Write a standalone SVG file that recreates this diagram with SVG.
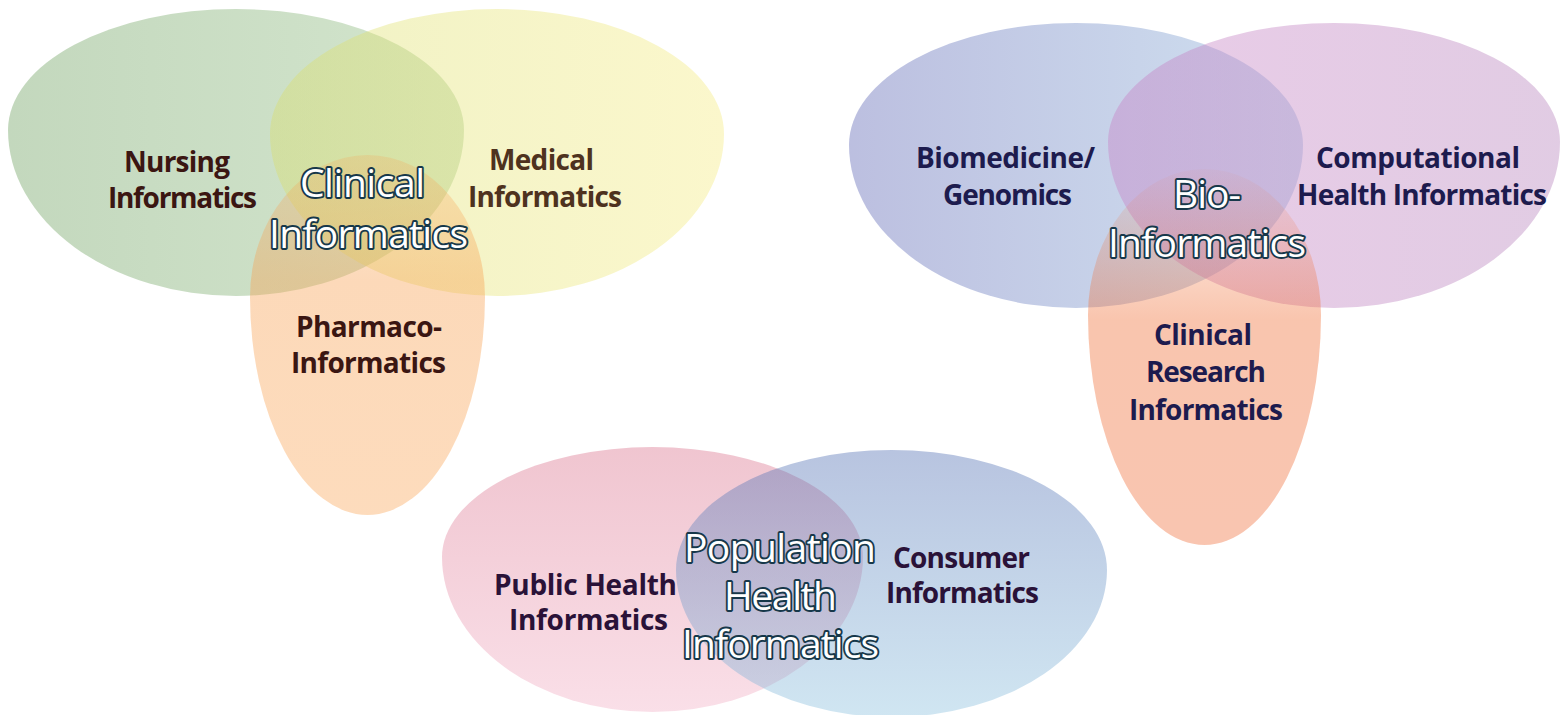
<svg xmlns="http://www.w3.org/2000/svg" width="1560" height="715" viewBox="0 0 1560 715">
<style>
.sh{opacity:0.4}
.lb{font-family:"Open Sans","Liberation Sans",sans-serif;font-weight:700;font-size:28px;text-anchor:middle}
.brown{fill:#3b1612}
.brown2{fill:#4e321e}
.navy{fill:#1d1b4e}
.plum{fill:#2a1238}
.ol{font-family:"Open Sans","Liberation Sans",sans-serif;font-weight:500;font-size:39px;text-anchor:middle;fill:#ffffff;stroke:#17384a;stroke-width:3.8;paint-order:stroke;stroke-linejoin:round}
</style>
<defs>
<linearGradient id="gNurs" x1="0" y1="0" x2="1" y2="0"><stop offset="0" stop-color="#699d5a"/><stop offset="1" stop-color="#91be82"/></linearGradient>
<linearGradient id="gMed" x1="0" y1="0" x2="1" y2="0"><stop offset="0" stop-color="#d9de6b"/><stop offset="1" stop-color="#f5eb7f"/></linearGradient>
<linearGradient id="gPh" x1="0" y1="0" x2="0" y2="1"><stop offset="0" stop-color="#f8a050" stop-opacity="0.55"/><stop offset="0.35" stop-color="#f8a050"/><stop offset="1" stop-color="#faa658"/></linearGradient>
<linearGradient id="gBio" x1="0" y1="0" x2="1" y2="0"><stop offset="0" stop-color="#575fb1"/><stop offset="1" stop-color="#87b1d9"/></linearGradient>
<linearGradient id="gComp" x1="0" y1="0" x2="1" y2="0"><stop offset="0" stop-color="#c87ec4"/><stop offset="1" stop-color="#b47fba"/></linearGradient>
<linearGradient id="gCR" x1="0" y1="0" x2="0" y2="1"><stop offset="0" stop-color="#f06e34" stop-opacity="0.1"/><stop offset="0.4" stop-color="#f06e34"/><stop offset="1" stop-color="#f06e3a"/></linearGradient>
<linearGradient id="gPub" x1="0" y1="0" x2="0" y2="1"><stop offset="0" stop-color="#d96e89"/><stop offset="1" stop-color="#f2afc5"/></linearGradient>
<linearGradient id="gCon" x1="0" y1="0" x2="0" y2="1"><stop offset="0" stop-color="#4d6bb1"/><stop offset="1" stop-color="#89c0de"/></linearGradient>
</defs>
<rect width="1560" height="715" fill="#ffffff"/>

<g id="nursing">
<path class="sh" fill="url(#gNurs)" d="M8,130 A228,121 0 0 1 464,130 A228,166 0 0 1 8,130 Z"/>
<text class="lb brown" x="177" y="172" textLength="106">Nursing</text>
<text class="lb brown" x="182.5" y="208" textLength="149">Informatics</text>
</g>
<g id="medical">
<path class="sh" fill="url(#gMed)" d="M270,134 A227,125 0 0 1 724,134 A227,162 0 0 1 270,134 Z"/>
<text class="lb brown2" x="541.5" y="170" textLength="105">Medical</text>
<text class="lb brown2" x="545" y="207" textLength="154">Informatics</text>
</g>
<g id="pharmaco">
<path class="sh" fill="url(#gPh)" d="M250,297 A117.5,142 0 0 1 485,297 A117.5,218 0 0 1 250,297 Z"/>
<text class="lb brown" x="369" y="337" textLength="146">Pharmaco-</text>
<text class="lb brown" x="368.5" y="373" textLength="155">Informatics</text>
</g>
<g id="clinical-informatics">
<text class="ol" x="362.5" y="197" textLength="125">Clinical</text>
<text class="ol" x="368.5" y="248" textLength="199">Informatics</text>
</g>

<g id="biomedicine">
<path class="sh" fill="url(#gBio)" d="M849,145 A227,122 0 0 1 1303,145 A227,163 0 0 1 849,145 Z"/>
<text class="lb navy" x="1005.5" y="168" textLength="179">Biomedicine/</text>
<text class="lb navy" x="1007.5" y="205" textLength="129">Genomics</text>
</g>
<g id="computational">
<path class="sh" fill="url(#gComp)" d="M1108,142 A226,119 0 0 1 1560,142 A226,166 0 0 1 1108,142 Z"/>
<text class="lb navy" x="1418" y="168" textLength="204">Computational</text>
<text class="lb navy" x="1422" y="205" textLength="250">Health Informatics</text>
</g>
<g id="clinical-research">
<path class="sh" fill="url(#gCR)" d="M1088,315 A116.5,146 0 0 1 1321,315 A116.5,230 0 0 1 1088,315 Z"/>
<text class="lb navy" x="1203" y="345" textLength="98">Clinical</text>
<text class="lb navy" x="1206" y="382" textLength="120">Research</text>
<text class="lb navy" x="1206" y="420" textLength="154">Informatics</text>
</g>
<g id="bio-informatics">
<text class="ol" x="1207" y="208" textLength="68">Bio-</text>
<text class="ol" x="1207" y="257" textLength="198">Informatics</text>
</g>

<g id="public-health">
<path class="sh" fill="url(#gPub)" d="M442,557 A210.5,110 0 0 1 863,557 A210.5,155 0 0 1 442,557 Z"/>
<text class="lb plum" x="585.5" y="595" textLength="183">Public Health</text>
<text class="lb plum" x="588.5" y="630" textLength="159">Informatics</text>
</g>
<g id="consumer">
<path class="sh" fill="url(#gCon)" d="M676,570 A215.5,120 0 0 1 1107,570 A215.5,147 0 0 1 676,570 Z"/>
<text class="lb plum" x="961.5" y="568" textLength="137">Consumer</text>
<text class="lb plum" x="962.5" y="603" textLength="153">Informatics</text>
</g>
<g id="population-health-informatics">
<text class="ol" x="780" y="562" textLength="192">Population</text>
<text class="ol" x="780.5" y="610" textLength="113">Health</text>
<text class="ol" x="780.5" y="658" textLength="197">Informatics</text>
</g>
</svg>
